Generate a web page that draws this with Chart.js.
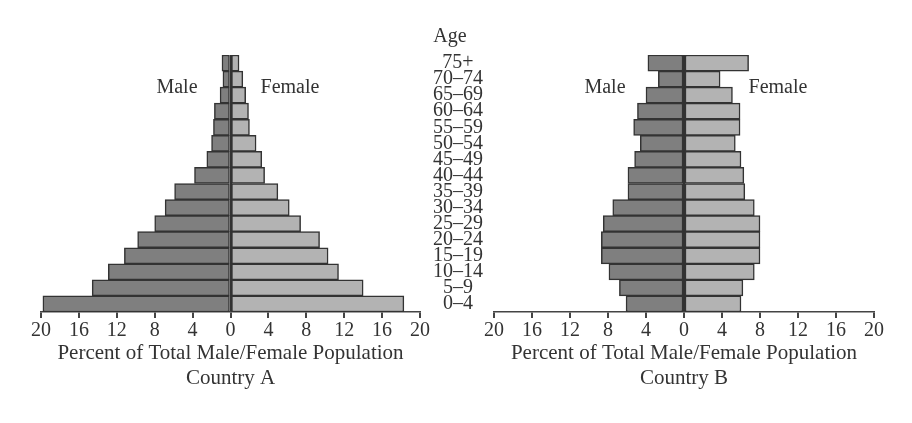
<!DOCTYPE html>
<html>
<head>
<meta charset="utf-8">
<script src="https://cdn.jsdelivr.net/npm/chart.js@4/dist/chart.umd.min.js"></script>
<style>
  body { margin: 0; background: #fff; }
  #wrap { position: relative; width: 912px; height: 423px; font-family: 'Liberation Serif', 'Times New Roman', serif; color: #333; }
  canvas { position: absolute; top: 0; }
  .lbl { position: absolute; font-size: 20px; line-height: 20px; transform: translate(-50%, -50%); white-space: nowrap; }
</style>
</head>
<body>
<div id="wrap">
  <canvas id="chartA" width="500" height="423" style="left:0"></canvas>
  <canvas id="chartB" width="452" height="423" style="left:460px"></canvas>
  <div class="lbl" style="left:450px; top:35px">Age</div>
  <div class="lbl" style="left:177px; top:86px">Male</div>
  <div class="lbl" style="left:290px; top:86px">Female</div>
  <div class="lbl" style="left:605px; top:86px">Male</div>
  <div class="lbl" style="left:778px; top:86px">Female</div>
</div>
<script>
// age groups, top to bottom
const ageGroups = ['75+', '70–74', '65–69', '60–64', '55–59', '50–54', '45–49', '40–44',
                   '35–39', '30–34', '25–29', '20–24', '15–19', '10–14', '5–9', '0–4'];

// percent of total male / female population
const maleA   = [0.9, 0.8, 1.1, 1.7, 1.8, 2.0, 2.5, 3.8, 5.9, 6.9, 8.0, 9.8, 11.2, 12.9, 14.6, 19.8];
const femaleA = [0.9, 1.3, 1.6, 1.9, 2.0, 2.7, 3.3, 3.6, 5.0, 6.2, 7.4, 9.4, 10.3, 11.4, 14.0, 18.3];
const maleB   = [3.8, 2.7, 4.0, 4.9, 5.3, 4.6, 5.2, 5.9, 5.9, 7.5, 8.5, 8.7, 8.7, 7.9, 6.8, 6.1];
const femaleB = [6.8, 3.8, 5.1, 5.9, 5.9, 5.4, 6.0, 6.3, 6.4, 7.4, 8.0, 8.0, 8.0, 7.4, 6.2, 6.0];

const xTitle = 'Percent of Total Male/Female Population';
const serif = "'Liberation Serif', 'Times New Roman', serif";
const ink = '#333';

function makePyramid(id, male, female, country, showAges, pad) {
  return new Chart(document.getElementById(id), {
    type: 'bar',
    data: {
      labels: ageGroups,
      datasets: [
        {
          label: 'Male',
          data: male.map(v => -v),
          backgroundColor: '#7f7f7f',
          borderColor: '#333',
          borderWidth: 1.5,
          borderSkipped: false
        },
        {
          label: 'Female',
          data: female,
          backgroundColor: '#b3b3b3',
          borderColor: '#333',
          borderWidth: 1.5,
          borderSkipped: false
        }
      ]
    },
    options: {
      responsive: false,
      animation: false,
      indexAxis: 'y',
      barPercentage: 1,
      categoryPercentage: 1,
      layout: { padding: pad },
      plugins: {
        legend: { display: false },
        tooltip: { enabled: false }
      },
      scales: {
        x: {
          type: 'linear',
          stacked: true,
          min: -20,
          max: 20,
          z: 1, // draw zero line over the bars
          afterFit: s => { s.height = 79; },
          ticks: {
            stepSize: 4,
            padding: 1,
            color: ink,
            font: { family: serif, size: 20 },
            callback: v => Math.abs(v)
          },
          grid: {
            // only the zero line shows inside the plot
            color: c => (c.tick && c.tick.value === 0) ? '#333' : 'rgba(0,0,0,0)',
            tickColor: '#444',
            tickLength: 6,
            lineWidth: 2
          },
          border: { color: '#444', width: 1.5 },
          title: {
            display: true,
            text: [xTitle, 'Country ' + country],
            color: ink,
            padding: 0,
            font: { family: serif, size: 21, lineHeight: 1.2 }
          }
        },
        y: {
          type: 'category',
          stacked: true,
          position: 'right',
          display: showAges,
          afterFit: s => { if (showAges) s.width = 80; },
          grid: { display: false, drawTicks: false },
          border: { display: false },
          ticks: {
            autoSkip: false,
            padding: 13,
            crossAlign: 'center',
            color: ink,
            font: { family: serif, size: 20, lineHeight: 1 }
          }
        }
      }
    }
  });
}

makePyramid('chartA', maleA, femaleA, 'A', true, { left: 41, right: 0, top: 55, bottom: 32 });
makePyramid('chartB', maleB, femaleB, 'B', false, { left: 34, right: 38, top: 55, bottom: 32 });
</script>
</body>
</html>
